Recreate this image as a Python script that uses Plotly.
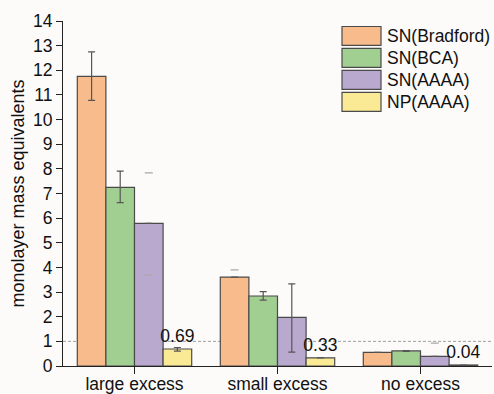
import plotly.graph_objects as go

categories = ["large excess", "small excess", "no excess"]
series_names = ["SN(Bradford)", "SN(BCA)", "SN(AAAA)", "NP(AAAA)"]
colors = ["#F8BC8C", "#A1CF92", "#B9A9CF", "#FAEA96"]

sn_bradford = [11.75, 3.61, 0.55]
sn_bca = [7.25, 2.84, 0.61]
sn_aaaa = [5.79, 1.97, 0.39]
np_aaaa = [0.69, 0.33, 0.04]
values = [sn_bradford, sn_bca, sn_aaaa, np_aaaa]

# visible error bars (plus / minus)
err_plus = [[1.0, 0, 0], [0.66, 0.18, 0.02], [0, 1.36, 0], [0.06, 0, 0]]
err_minus = [[0.97, 0, 0], [0.62, 0.17, 0.02], [0, 1.41, 0], [0.09, 0, 0]]

# light grey cap-only marks (no visible stem)
cap_marks = [[None, 3.90, None], [None, None, None], [7.84, None, 0.93], [None, None, None]]
cap_marks_low = [[None, None, None], [None, None, None], [3.70, None, None], [None, None, None]]

bar_labels = ["0.69", "0.33", "0.04"]

font = "Liberation Sans, Arial, sans-serif"
fsize = 17.5

fig = go.Figure()
for i, name in enumerate(series_names):
    fig.add_trace(go.Bar(
        x=categories, y=values[i], name=name, offsetgroup=str(i),
        marker=dict(color=colors[i], line=dict(color="#4a4a4a", width=1.2)),
        error_y=dict(type="data", symmetric=False, array=err_plus[i], arrayminus=err_minus[i],
                     color="#555555", thickness=1.2, width=3.5),
        text=bar_labels if i == 3 else None,
        textposition="outside" if i == 3 else None,
        constraintext="none",
        textfont=dict(family=font, size=fsize, color="#111111"),
        cliponaxis=False,
        showlegend=False,
    ))

for caps in (cap_marks, cap_marks_low):
    for i in range(4):
        if all(v is None for v in caps[i]):
            continue
        fig.add_trace(go.Bar(
            x=categories, y=caps[i], offsetgroup=str(i),
            marker=dict(color="rgba(0,0,0,0)", line=dict(width=0)),
            error_y=dict(type="data", array=[0, 0, 0], color="#a8a8a8", thickness=1.2, width=4),
            showlegend=False, hoverinfo="skip",
        ))

shapes = [dict(type="line", xref="paper", yref="y", x0=0, x1=1, y0=1, y1=1,
               line=dict(color="#888888", width=0.8, dash="3px,2px"), layer="below")]
annotations = []
plot_l, plot_w = 63, 429
plot_top, plot_bottom = 20.5, 366
ph = plot_bottom - plot_top
for i, name in enumerate(series_names):
    top = 26 + 22 * i
    bot = top + 19
    shapes.append(dict(type="rect", xref="paper", yref="paper",
                       x0=(342 - plot_l) / plot_w, x1=(381 - plot_l) / plot_w,
                       y0=(plot_bottom - bot) / ph, y1=(plot_bottom - top) / ph,
                       fillcolor=colors[i], line=dict(color="#4a4a4a", width=1.2)))
    annotations.append(dict(xref="paper", yref="paper", x=(385 - plot_l) / plot_w,
                            y=(plot_bottom - (top + bot) / 2) / ph, text=name, showarrow=False,
                            xanchor="left", yanchor="middle",
                            font=dict(family=font, size=fsize, color="#111111")))

fig.update_layout(
    width=494, height=394,
    margin=dict(l=63, r=2, t=20.5, b=28),
    paper_bgcolor="#fcfbfa", plot_bgcolor="#fcfbfa",
    barmode="group", bargap=0.2, bargroupgap=0,
    font=dict(family=font, size=fsize, color="#111111"),
    shapes=shapes, annotations=annotations,
    xaxis=dict(showline=True, linecolor="#222222", linewidth=1.2, ticks="outside", ticklen=7,
               tickcolor="#222222", showgrid=False, range=[-0.5, 2.5], automargin=False,
               ticklabelstandoff=-5,
               tickfont=dict(family=font, size=fsize, color="#111111")),
    yaxis=dict(range=[0, 14], dtick=1, showline=True, linecolor="#222222", linewidth=1.2,
               ticks="outside", ticklen=6, tickcolor="#222222", showgrid=False, zeroline=False,
               automargin=False,
               tickfont=dict(family=font, size=fsize, color="#111111"),
               title=dict(text="monolayer mass equivalents", standoff=3,
                          font=dict(family=font, size=18, color="#111111"))),
)

fig.write_html("out.html", config={"displayModeBar": False},
               post_script="document.body.style.margin='0px';document.body.style.background='#fcfbfa';")
